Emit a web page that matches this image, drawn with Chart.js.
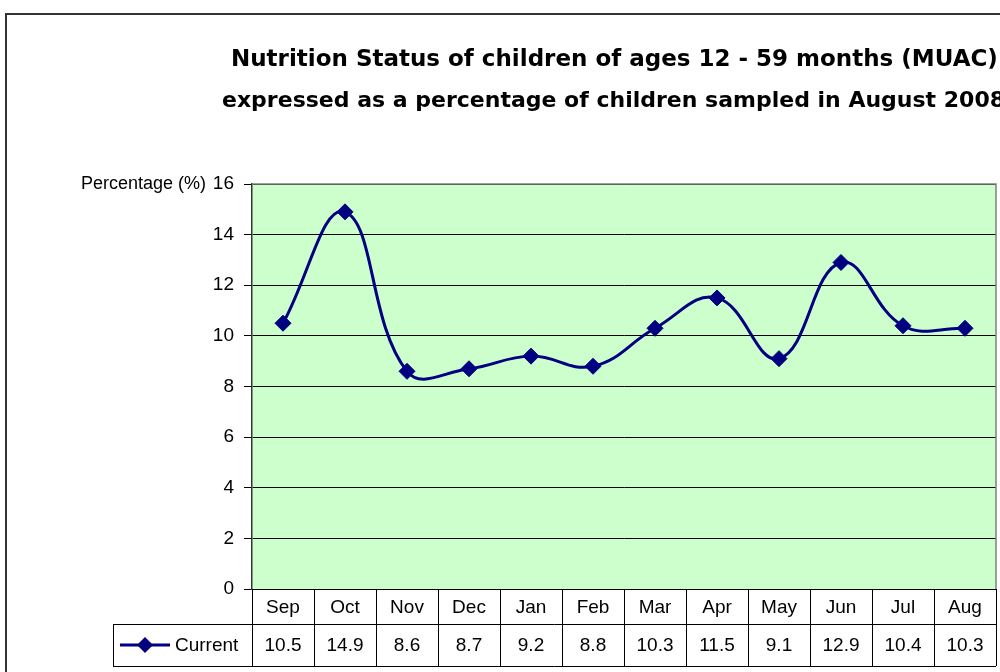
<!DOCTYPE html>
<html>
<head>
<meta charset="utf-8">
<script src="https://cdn.jsdelivr.net/npm/chart.js"></script>
<style>
  body { margin: 0; background: #fff; }
  canvas { display: block; }
</style>
</head>
<body>
<canvas id="muac-chart" width="1000" height="672"></canvas>
<script>
// Dữ liệu
const months = ['Sep', 'Oct', 'Nov', 'Dec', 'Jan', 'Feb', 'Mar', 'Apr', 'May', 'Jun', 'Jul', 'Aug'];
const current = [10.5, 14.9, 8.6, 8.7, 9.2, 8.8, 10.3, 11.5, 9.1, 12.9, 10.4, 10.3];
const yTicks = [0, 2, 4, 6, 8, 10, 12, 14, 16];
const titleLines = [
    'Nutrition Status of children of ages 12 - 59 months (MUAC)',
    'expressed as a percentage of children sampled in August 2008'
];
const seriesName = 'Current';
const yLabel = 'Percentage (%)';

const navy = '#000080';
const tableFont = '19px "Liberation Sans", Arial, sans-serif';

// Vẽ khung, tiêu đề, nhãn trục và bảng dữ liệu
const framePlugin = {
    id: 'frame',
    beforeDraw(chart) {
        const ctx = chart.ctx;
        const a = chart.chartArea;
        ctx.save();
        ctx.fillStyle = '#fff';
        ctx.fillRect(0, 0, chart.width, chart.height);
        // nền vùng vẽ
        ctx.fillStyle = '#CCFFCC';
        ctx.fillRect(a.left, a.top, a.right - a.left, a.bottom - a.top);
        ctx.restore();
    },
    afterDraw(chart) {
        const ctx = chart.ctx;
        const a = chart.chartArea;
        const x = chart.scales.x;
        ctx.save();

        // khung ngoài
        ctx.strokeStyle = '#333';
        ctx.lineWidth = 2;
        ctx.beginPath();
        ctx.moveTo(6, chart.height + 5);
        ctx.lineTo(6, 14);
        ctx.lineTo(chart.width + 5, 14);
        ctx.stroke();

        // viền trên / phải vùng vẽ
        ctx.strokeStyle = '#808080';
        ctx.lineWidth = 1.5;
        ctx.beginPath();
        ctx.moveTo(a.left, a.top);
        ctx.lineTo(a.right, a.top);
        ctx.lineTo(a.right, a.bottom);
        ctx.stroke();

        // tiêu đề
        ctx.fillStyle = '#000';
        ctx.textBaseline = 'middle';
        ctx.textAlign = 'left';
        ctx.font = 'bold 23px "DejaVu Sans", sans-serif';
        ctx.fillText(titleLines[0], 231, 60);
        ctx.font = 'bold 22px "DejaVu Sans", sans-serif';
        ctx.fillText(titleLines[1], 222, 101);

        // nhãn trục y
        ctx.font = '18px "Liberation Sans", Arial, sans-serif';
        ctx.textAlign = 'right';
        ctx.fillText(yLabel, 206, 184);

        // bảng dữ liệu
        const rowTop = a.bottom;
        const rowMid = a.bottom + 35;
        const rowBot = a.bottom + 77;
        const step = (a.right - a.left) / months.length;
        ctx.strokeStyle = '#000';
        ctx.lineWidth = 1;
        ctx.beginPath();
        ctx.moveTo(113, rowMid + 0.5);
        ctx.lineTo(a.right, rowMid + 0.5);
        ctx.moveTo(113, rowBot + 0.5);
        ctx.lineTo(a.right, rowBot + 0.5);
        ctx.moveTo(113.5, rowMid);
        ctx.lineTo(113.5, rowBot);
        for (let i = 0; i <= months.length; i++) {
            const gx = Math.round(a.left + i * step) + 0.5;
            ctx.moveTo(gx, rowTop);
            ctx.lineTo(gx, rowBot);
        }
        ctx.stroke();

        ctx.font = tableFont;
        ctx.textAlign = 'center';
        months.forEach((m, i) => {
            const cx = x.getPixelForValue(i);
            ctx.fillText(m, cx, (rowTop + rowMid) / 2 + 1);
            ctx.fillText(current[i].toFixed(1), cx, (rowMid + rowBot) / 2 + 1);
        });

        // chú giải trong bảng
        const ly = (rowMid + rowBot) / 2;
        ctx.strokeStyle = navy;
        ctx.lineWidth = 3;
        ctx.beginPath();
        ctx.moveTo(120, ly);
        ctx.lineTo(170, ly);
        ctx.stroke();
        ctx.fillStyle = navy;
        ctx.beginPath();
        ctx.moveTo(145, ly - 8);
        ctx.lineTo(153, ly);
        ctx.lineTo(145, ly + 8);
        ctx.lineTo(137, ly);
        ctx.closePath();
        ctx.fill();
        ctx.fillStyle = '#000';
        ctx.textAlign = 'left';
        ctx.fillText(seriesName, 175, ly + 1);

        ctx.restore();
    }
};

Chart.defaults.font.family = '"Liberation Sans", Arial, sans-serif';
Chart.defaults.font.size = 19;
Chart.defaults.color = '#000';

const chart = new Chart(document.getElementById('muac-chart'), {
    type: 'line',
    data: {
        labels: months,
        datasets: [{
            label: seriesName,
            data: current,
            borderColor: navy,
            backgroundColor: navy,
            borderWidth: 3,
            tension: 0.42,
            pointStyle: 'rectRot',
            pointRadius: 8,
            pointBorderWidth: 1,
            clip: false
        }]
    },
    options: {
        responsive: false,
        animation: false,
        layout: {
            autoPadding: false,
            padding: { top: 184, left: 192, right: 4, bottom: 83 }
        },
        plugins: {
            legend: { display: false },
            title: { display: false },
            tooltip: { enabled: false }
        },
        scales: {
            x: {
                display: false,
                offset: true
            },
            y: {
                min: 0,
                max: 16,
                afterFit: axis => { axis.width = 60; },
                afterBuildTicks: axis => { axis.ticks = yTicks.map(v => ({ value: v })); },
                ticks: { padding: 10 },
                grid: { color: '#000', lineWidth: 1, tickLength: 8 },
                border: { color: '#333', width: 1.5 }
            }
        }
    },
    plugins: [framePlugin]
});
</script>
</body>
</html>
